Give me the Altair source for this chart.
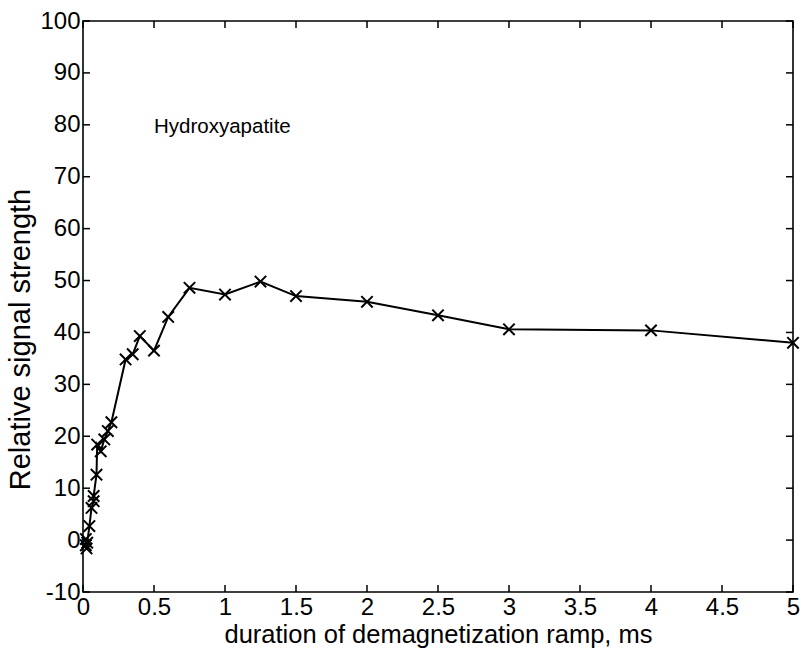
import altair as alt
import pandas as pd

# Demagnetization ramp duration (ms) and relative signal strength
durations = [0.02, 0.02, 0.025, 0.03, 0.045, 0.06, 0.075, 0.075, 0.095, 0.1,
             0.125, 0.15, 0.175, 0.2, 0.3, 0.35, 0.4, 0.5, 0.6, 0.75,
             1.0, 1.25, 1.5, 2.0, 2.5, 3.0, 4.0, 5.0]
signal = [0.2, -1.0, -1.6, -0.5, 2.7, 6.2, 7.5, 8.5, 12.6, 18.4,
          17.1, 19.4, 21.0, 22.7, 34.8, 35.8, 39.3, 36.5, 43.0, 48.6,
          47.3, 49.8, 47.0, 45.9, 43.3, 40.6, 40.4, 38.0]

x_ticks = [0, 0.5, 1, 1.5, 2, 2.5, 3, 3.5, 4, 4.5, 5]
y_ticks = [-10, 0, 10, 20, 30, 40, 50, 60, 70, 80, 90, 100]

W, H = 710, 571
TICK = 7
FONT = "Liberation Sans"

df = pd.DataFrame({"t": durations, "s": signal, "i": range(len(durations))})
xt = pd.DataFrame({"v": x_ticks})
yt = pd.DataFrame({"v": y_ticks})
note = pd.DataFrame({"t": [0.5], "s": [79.5], "label": ["Hydroxyapatite"]})

xscale = alt.Scale(domain=[0, 5], nice=False, zero=False)
yscale = alt.Scale(domain=[-10, 100], nice=False, zero=False)

x_axis = alt.Axis(values=x_ticks, format="~g", tickSize=0, domain=False,
                  grid=False, labelFont=FONT, labelFontSize=24,
                  labelColor="black", labelPadding=3, labelFlush=False,
                  title="duration of demagnetization ramp, ms",
                  titleFont=FONT, titleFontSize=25.5, titleFontWeight="normal",
                  titleColor="black", titlePadding=3)
y_axis = alt.Axis(values=y_ticks, tickSize=0, domain=False, grid=False,
                  labelFont=FONT, labelFontSize=24, labelColor="black",
                  labelPadding=3, labelFlush=False,
                  labelExpr="replace(datum.label, '\u2212', '-')",
                  title="Relative signal strength",
                  titleFont=FONT, titleFontSize=29, titleFontWeight="normal",
                  titleColor="black", titlePadding=4, titleY=318)

base = alt.Chart(df)

line = base.mark_line(color="black", strokeWidth=2).encode(
    x=alt.X("t:Q", scale=xscale, axis=x_axis),
    y=alt.Y("s:Q", scale=yscale, axis=y_axis),
    order="i:Q",
)

points = base.mark_point(
    shape="M-1,-1L1,1M-1,1L1,-1", size=130, filled=False,
    color="black", strokeWidth=2, opacity=1,
).encode(
    x=alt.X("t:Q", scale=xscale),
    y=alt.Y("s:Q", scale=yscale),
)

label = alt.Chart(note).mark_text(
    align="left", baseline="middle", font=FONT, fontSize=20.5, color="black"
).encode(
    x=alt.X("t:Q", scale=xscale),
    y=alt.Y("s:Q", scale=yscale),
    text="label:N",
)

# Inward ticks on all four sides of the box
tick_style = dict(color="black", strokeWidth=1.5)
bottom_ticks = alt.Chart(xt).mark_rule(**tick_style).encode(
    x=alt.X("v:Q", scale=xscale),
    y=alt.value(H - TICK), y2=alt.value(H),
)
top_ticks = alt.Chart(xt).mark_rule(**tick_style).encode(
    x=alt.X("v:Q", scale=xscale),
    y=alt.value(0), y2=alt.value(TICK),
)
left_ticks = alt.Chart(yt).mark_rule(**tick_style).encode(
    y=alt.Y("v:Q", scale=yscale),
    x=alt.value(0), x2=alt.value(TICK),
)
right_ticks = alt.Chart(yt).mark_rule(**tick_style).encode(
    y=alt.Y("v:Q", scale=yscale),
    x=alt.value(W - TICK), x2=alt.value(W),
)

chart = alt.layer(
    line, points, label, bottom_ticks, top_ticks, left_ticks, right_ticks
).properties(
    width=W, height=H,
    padding={"left": 83, "top": 21, "right": 11, "bottom": 69},
    autosize=alt.AutoSizeParams(type="none"),
    background="white",
).configure_view(
    stroke="black", strokeWidth=1.6
)

chart.save("out.html", embed_options={"renderer": "svg", "actions": False})
